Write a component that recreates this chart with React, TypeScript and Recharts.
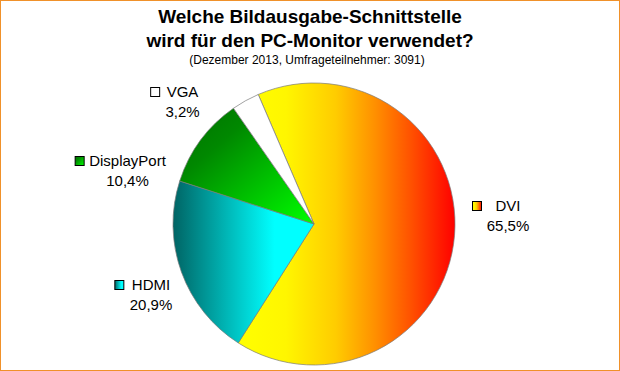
import React from 'react';
import { PieChart, Pie, Cell } from 'recharts';

const categories = ['DVI', 'HDMI', 'DisplayPort', 'VGA'];
const shares = [65.5, 20.9, 10.4, 3.2];

const titleLines = ['Welche Bildausgabe-Schnittstelle', 'wird für den PC-Monitor verwendet?'];
const subtitle = '(Dezember 2013, Umfrageteilnehmer: 3091)';

const data = categories.map((name, i) => ({ name, value: shares[i] }));

const fills = ['url(#gDVI)', 'url(#gHDMI)', 'url(#gDP)', '#ffffff'];

// label block placement, relative to the pie centre
const labelPos: Record<string, { dx: number; dy: number; gap: number }> = {
  DVI: { dx: 194, dy: -13, gap: 14 },
  HDMI: { dx: -163, dy: 66, gap: 8 },
  DisplayPort: { dx: -186.5, dy: -58, gap: 5 },
  VGA: { dx: -131.5, dy: -127, gap: 7 },
};

const FONT = '"Liberation Sans", Arial, sans-serif';
const LABEL_SIZE = 15;

let ctx: CanvasRenderingContext2D | null = null;
const textWidth = (s: string) => {
  if (!ctx) ctx = document.createElement('canvas').getContext('2d');
  if (!ctx) return s.length * 8;
  ctx.font = `${LABEL_SIZE}px "Liberation Sans"`;
  return ctx.measureText(s).width;
};

const fmt = (v: number) => v.toFixed(1).replace('.', ',') + '%';

const renderLabel = (props: any) => {
  const { cx, cy, index } = props;
  const name = categories[index];
  const p = labelPos[name];
  const x = cx + p.dx;
  const y = cy + p.dy;
  const w = textWidth(name);
  const sq = x - w / 2 - p.gap - 9;
  return (
    <g key={name}>
      <rect x={sq} y={y - 9.5} width={9} height={9} fill={fills[index]} stroke="#000" strokeWidth={1} />
      <text x={x} y={y} textAnchor="middle" fontSize={LABEL_SIZE} fontFamily={FONT} fill="#000">
        {name}
      </text>
      <text x={x} y={y + 19.5} textAnchor="middle" fontSize={LABEL_SIZE} fontFamily={FONT} fill="#000">
        {fmt(shares[index])}
      </text>
    </g>
  );
};

export default function App() {
  return (
    <div
      style={{
        position: 'fixed',
        left: 0,
        top: 0,
        width: 620,
        height: 371,
        boxSizing: 'border-box',
        border: '1px solid #F0912A',
        background: '#fff',
      }}
    >
      <svg width={620} height={371} style={{ position: 'absolute', left: -1, top: -1 }}>
        <defs>
          <linearGradient id="gDVI" x1="0" y1="0" x2="1" y2="0">
            <stop offset="0" stopColor="#FFFF00" />
            <stop offset="0.22" stopColor="#FFF600" />
            <stop offset="0.45" stopColor="#FFCC00" />
            <stop offset="0.63" stopColor="#FF9000" />
            <stop offset="0.8" stopColor="#FF5000" />
            <stop offset="1" stopColor="#FF0000" />
          </linearGradient>
          <linearGradient id="gHDMI" x1="0" y1="0" x2="1" y2="0">
            <stop offset="0" stopColor="#006464" />
            <stop offset="0.5" stopColor="#00D0D0" />
            <stop offset="0.72" stopColor="#00FFFF" />
            <stop offset="1" stopColor="#00FFFF" />
          </linearGradient>
          <linearGradient id="gDP" x1="0" y1="0" x2="1" y2="1">
            <stop offset="0" stopColor="#007000" />
            <stop offset="0.3" stopColor="#008800" />
            <stop offset="1" stopColor="#00FF00" />
          </linearGradient>
        </defs>
        <text x={310} y={23} textAnchor="middle" fontSize={19} fontWeight="bold" fontFamily={FONT}>
          {titleLines[0]}
        </text>
        <text x={310} y={46.5} textAnchor="middle" fontSize={19} fontWeight="bold" fontFamily={FONT}>
          {titleLines[1]}
        </text>
        <text x={307} y={63.5} textAnchor="middle" fontSize={12} fontFamily={FONT}>
          {subtitle}
        </text>
      </svg>
      <div style={{ position: 'absolute', left: -1, top: -1 }}>
        <PieChart width={620} height={371} margin={{ top: 0, right: 0, bottom: 0, left: 0 }}>
          <Pie
            data={data}
            dataKey="value"
            nameKey="name"
            cx={314}
            cy={224}
            outerRadius={141}
            startAngle={113.3}
            endAngle={113.3 - 360}
            stroke="#7a7a7a"
            strokeWidth={0.7}
            label={renderLabel}
            labelLine={false}
            isAnimationActive={false}
          >
            {data.map((d, i) => (
              <Cell key={d.name} fill={fills[i]} />
            ))}
          </Pie>
        </PieChart>
      </div>
    </div>
  );
}
